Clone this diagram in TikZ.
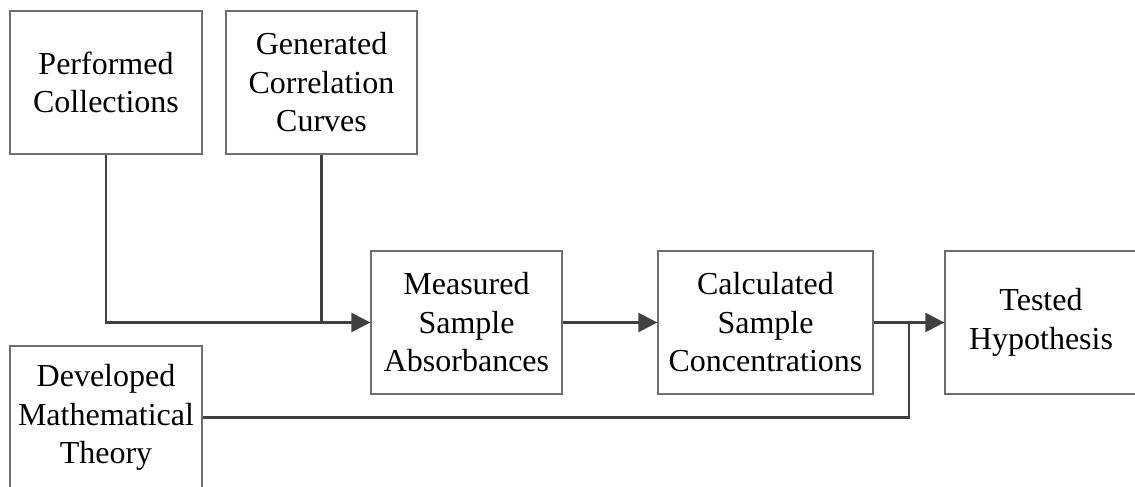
\documentclass[tikz,border=0pt]{standalone}
\usepackage{fontspec}
\setmainfont{Liberation Serif}
\usetikzlibrary{arrows.meta}
\definecolor{boxline}{HTML}{6E6E6E}
\definecolor{conn}{HTML}{404040}
\begin{document}
\begin{tikzpicture}[x=1pt,y=-1pt,
  stepbox/.style={draw=boxline,line width=1.3pt,minimum height=143pt,align=center,inner sep=0pt,
    font=\fontsize{32}{38.5}\selectfont,text=black},
  link/.style={draw=conn,line width=2.5pt},
  arr/.style={link,-{Triangle[length=19pt,width=19pt]}}]
\useasboundingbox (0,0) rectangle (1135,487);
\node[stepbox,minimum width=192pt] (perf) at (106,82.5) {Performed\\Collections};
\node[stepbox,minimum width=191pt] (gen) at (321.5,82.5) {Generated\\Correlation\\Curves};
\node[stepbox,minimum width=191pt] (meas) at (466.5,322.5) {Measured\\Sample\\Absorbances};
\node[stepbox,minimum width=215pt] (calc) at (765.5,322.5) {Calculated\\Sample\\Concentrations};
\node[stepbox,minimum width=192pt] (test) at (1041,322.5) {Tested\\Hypothesis};
\node[stepbox,minimum width=192pt] (dev) at (106,417.5) {Developed\\Mathematical\\Theory};
\coordinate (j) at (909,322.5);
\draw[arr] (perf.south) |- (meas.west);
\draw[link] (gen.south) -- (gen.south |- meas.west);
\draw[arr] (meas.east) -- (calc.west);
\draw[arr] (calc.east) -- (test.west);
\draw[link] (dev.east) -| (j);
\end{tikzpicture}
\end{document}
